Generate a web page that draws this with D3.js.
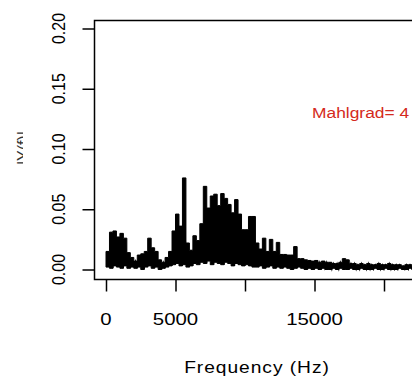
<!DOCTYPE html>
<html>
<head>
<meta charset="utf-8">
<script src="https://cdn.jsdelivr.net/npm/d3@7"></script>
<style>
  body { margin: 0; background: #fff; }
  svg { display: block; font-family: "Liberation Sans", Arial, sans-serif; }
</style>
</head>
<body>
<div id="chart"></div>
<script>
// spectrum, one reading every 250 Hz
const freqStep = 250;
// upper envelope (peaks)
const peakVals = [
  0.015, 0.031, 0.032, 0.027, 0.030, 0.026, 0.014, 0.010, 0.007, 0.012,
  0.013, 0.015, 0.026, 0.018, 0.015, 0.008, 0.006, 0.010, 0.015, 0.032,
  0.046, 0.036, 0.076, 0.022, 0.016, 0.028, 0.024, 0.038, 0.069, 0.051,
  0.061, 0.0625, 0.053, 0.063, 0.059, 0.054, 0.047, 0.058, 0.046, 0.033,
  0.033, 0.044, 0.044, 0.022, 0.017, 0.026, 0.015, 0.025, 0.015, 0.0225,
  0.0125, 0.0125, 0.012, 0.012, 0.019, 0.009, 0.009, 0.008, 0.0075, 0.007,
  0.0075, 0.006, 0.007, 0.006, 0.006, 0.005, 0.005, 0.006, 0.009, 0.008,
  0.005, 0.005, 0.004, 0.005, 0.004, 0.005, 0.004, 0.004, 0.005, 0.004,
  0.004, 0.005, 0.004, 0.004, 0.004, 0.003, 0.004, 0.004, 0.003
];
// lower envelope (troughs between peaks)
const troughVals = [
  0.002, 0.001, 0.003, 0.002, 0.001, 0.003,
  0.001, 0.002, 0.001, 0.002, 0.000, 0.002, 0.003, 0.001, 0.002, 0.000, 0.001, 0.002, 0.003,
  0.004, 0.005, 0.003, 0.004, 0.002, 0.003, 0.005, 0.004, 0.006, 0.005, 0.007, 0.004,
  0.006, 0.005, 0.004, 0.006, 0.005, 0.003, 0.005, 0.004, 0.003, 0.004, 0.003, 0.002,
  0.002, 0.003, 0.001, 0.002, 0.003, 0.001, 0.002, 0.001, 0.002, 0.001, 0.000, 0.001,
  0.002, 0.001, 0.000, 0.001,
  0.000, 0.001, 0.000, 0.001, 0.000, 0.000, 0.001, 0.000, 0.001, 0.000, 0.000, 0.001,
  0.000, 0.000, 0.001, 0.000, 0.000, 0.000, 0.001, 0.000, 0.000, 0.001, 0.000, 0.000,
  0.000, 0.001, 0.000, 0.000, 0.001, 0.000
];

const xTicks = [0, 5000, 10000, 15000, 20000];
const xTickLabels = ["0", "5000", "", "15000", ""];   // R drops the crowded ones
const yTicks = [0, 0.05, 0.10, 0.15, 0.20];
const yTickLabels = ["0.00", "0.05", "0.10", "0.15", "0.20"];
const xTitle = "Frequency (Hz)";
const yTitle = "|Y(f)|";
const note = "Mahlgrad= 4";

const W = 412, H = 379;
const box = { left: 94, top: 20, right: 440, bottom: 279 };
const stretch = 1.2;   // the picture is a bit wider than tall

let x = d3.scaleLinear().domain([0, 20000]).range([106, 384]);
let y = d3.scaleLinear().domain([0, 0.2]).range([269.5, 28.5]);

let svg = d3.select("#chart").append("svg")
  .attr("width", W)
  .attr("height", H);

let defs = svg.append("defs");
defs.append("clipPath").attr("id", "plotclip")
  .append("rect")
  .attr("x", box.left).attr("y", box.top)
  .attr("width", box.right - box.left).attr("height", box.bottom - box.top);
defs.append("clipPath").attr("id", "ylabclip")
  .append("rect").attr("x", 16).attr("y", 100).attr("width", 7).attr("height", 100);

let spec = peakVals.map(function (v, i) {
  return { f: i * freqStep, hi: v, lo: troughVals[i] };
});

// the spectrum is so dense it prints as a solid mass between the envelopes
let area = d3.area()
  .curve(d3.curveStepAfter)
  .x(function (d) { return x(d.f); })
  .y0(function (d) { return y(d.lo); })
  .y1(function (d) { return y(d.hi); });

let g = svg.append("g").attr("clip-path", "url(#plotclip)");

g.append("path")
  .datum(spec)
  .attr("d", area)
  .style("fill", "#000")
  .style("stroke", "#000")
  .style("stroke-width", 1);

// spikes on top: peak -> trough -> peak
let pts = [];
spec.forEach(function (d) {
  pts.push({ f: d.f + freqStep * 0.5, a: d.hi });
  pts.push({ f: d.f + freqStep, a: d.lo });
});
let line = d3.line()
  .x(function (d) { return x(d.f); })
  .y(function (d) { return y(d.a); });

g.append("path")
  .attr("d", line(pts))
  .style("fill", "none")
  .style("stroke", "#000")
  .style("stroke-width", 1.2);

// frame
svg.append("rect")
  .attr("x", box.left + 0.5).attr("y", box.top + 0.5)
  .attr("width", box.right - box.left).attr("height", box.bottom - box.top)
  .style("fill", "none")
  .style("stroke", "#000")
  .style("stroke-width", 1.5);

// x axis
let xAxis = svg.append("g")
  .attr("transform", "translate(0," + (box.bottom + 0.5) + ")")
  .call(d3.axisBottom(x).tickValues(xTicks).tickSize(12).tickFormat(""));
xAxis.select(".domain").remove();
xAxis.selectAll(".tick line").style("stroke-width", 1.5);

xTicks.forEach(function (t, i) {
  if (!xTickLabels[i]) return;
  svg.append("text")
    .attr("transform", "translate(" + x(t) + ",325) scale(" + stretch + ",1)")
    .attr("text-anchor", "middle")
    .style("font-size", "17px")
    .style("fill", "#000")
    .text(xTickLabels[i]);
});

// y axis
let yAxis = svg.append("g")
  .attr("transform", "translate(" + (box.left + 0.5) + ",0)")
  .call(d3.axisLeft(y).tickValues(yTicks).tickSize(12).tickFormat(""));
yAxis.select(".domain").remove();
yAxis.selectAll(".tick line").style("stroke-width", 1.5);

yTicks.forEach(function (t, i) {
  svg.append("text")
    .attr("transform", "translate(65," + y(t) + ") scale(" + stretch + ",1) rotate(-90)")
    .attr("text-anchor", "middle")
    .style("font-size", "16px")
    .style("fill", "#000")
    .text(yTickLabels[i]);
});

// axis titles
svg.append("text")
  .attr("transform", "translate(257,373) scale(" + stretch + ",1)")
  .attr("text-anchor", "middle")
  .style("font-size", "16px")
  .style("letter-spacing", "0.8px")
  .style("fill", "#000")
  .text(xTitle);

// y title is mostly cut off at the left edge
svg.append("g").attr("clip-path", "url(#ylabclip)")
  .append("text")
  .attr("transform", "translate(30,148) scale(" + stretch + ",1) rotate(-90)")
  .attr("text-anchor", "middle")
  .style("font-size", "16px")
  .style("fill", "#333")
  .text(yTitle);

// annotation
svg.append("text")
  .attr("transform", "translate(312,118) scale(" + stretch + ",1)")
  .style("font-size", "14.5px")
  .style("fill", "#d42a20")
  .text(note);
</script>
</body>
</html>
